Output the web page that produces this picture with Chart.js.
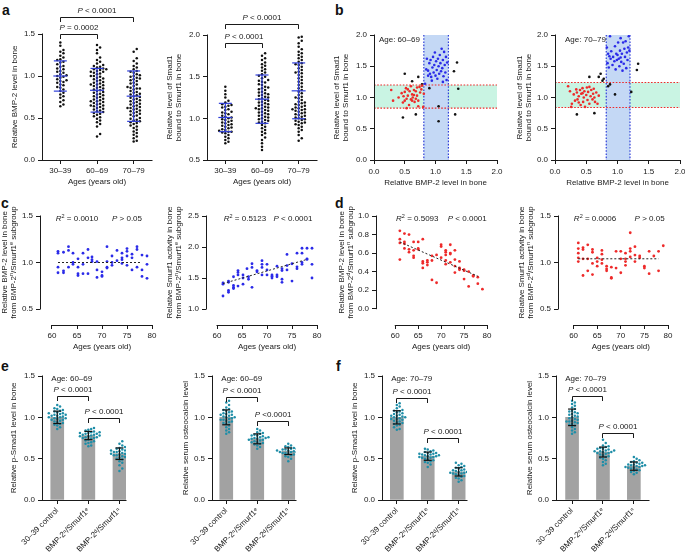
<!DOCTYPE html>
<html>
<head>
<meta charset="utf-8">
<script src="https://cdn.jsdelivr.net/npm/chart.js@4.4.0/dist/chart.umd.min.js"></script>
<style>
  html, body { margin: 0; padding: 0; background: #fff; }
  body { position: relative; width: 685px; height: 552px; overflow: hidden; font-family: 'Liberation Sans', Arial, sans-serif; }
  canvas { position: absolute; }
  .lbl { position: absolute; font-weight: bold; font-size: 14px; line-height: 1; color: #111; }
</style>
</head>
<body>
<div class="lbl" style="left:2px;top:3px">a</div>
<div class="lbl" style="left:335px;top:3px">b</div>
<div class="lbl" style="left:1px;top:196px">c</div>
<div class="lbl" style="left:335px;top:196px">d</div>
<div class="lbl" style="left:1px;top:359px">e</div>
<div class="lbl" style="left:336px;top:359px">f</div>
<script>
// ---- data ----
const ageGroups = ['30–39', '60–69', '70–79'];
const subgroupLabels = ['30–39 control', 'BMP-2ⁿ/Smurf1ᵉ', 'BMP-2ᵈ/Smurf1ⁿ'];

// a, left: relative BMP-2 level in bone
const bmp2Young = [1.40,1.36,1.31,1.29,1.27,1.24,1.22,1.20,1.19,1.17,1.16,1.14,1.12,1.11,1.09,1.08,1.06,1.05,1.04,1.02,1.01,1.00,0.99,0.98,0.96,0.95,0.94,0.93,0.92,0.90,0.89,0.87,0.86,0.84,0.82,0.80,0.78,0.76,0.74,0.71,0.69,0.66,0.64];
const bmp2Mid = [1.37,1.34,1.31,1.27,1.22,1.19,1.17,1.15,1.13,1.12,1.11,1.10,1.09,1.08,1.08,1.07,1.06,1.05,1.05,1.04,1.03,1.02,1.00,1.00,0.99,0.98,0.97,0.96,0.95,0.94,0.93,0.92,0.91,0.90,0.90,0.89,0.88,0.87,0.86,0.85,0.84,0.83,0.82,0.81,0.80,0.79,0.78,0.77,0.76,0.75,0.74,0.73,0.72,0.71,0.70,0.70,0.69,0.68,0.67,0.66,0.65,0.65,0.64,0.63,0.62,0.61,0.60,0.59,0.58,0.57,0.56,0.55,0.54,0.52,0.51,0.49,0.47,0.45,0.43,0.40,0.31,0.28];
const bmp2Old = [1.32,1.29,1.21,1.18,1.15,1.12,1.10,1.08,1.06,1.05,1.04,1.02,1.01,1.00,0.99,0.98,0.97,0.96,0.95,0.94,0.92,0.91,0.90,0.88,0.87,0.86,0.85,0.85,0.84,0.82,0.81,0.80,0.79,0.78,0.77,0.76,0.75,0.74,0.73,0.72,0.71,0.70,0.69,0.68,0.67,0.66,0.65,0.64,0.63,0.62,0.62,0.61,0.60,0.59,0.58,0.57,0.56,0.55,0.54,0.53,0.52,0.50,0.49,0.48,0.47,0.46,0.45,0.44,0.43,0.41,0.40,0.38,0.36,0.34,0.32,0.30,0.28,0.26,0.23,0.22];
const bmp2Mean = [1.00, 0.83, 0.76];
const bmp2SD = [0.18, 0.26, 0.30];

// a, right: relative level of Smad1 bound to Smurf1
const smadYoung = [1.38,1.33,1.29,1.25,1.21,1.19,1.17,1.16,1.15,1.14,1.13,1.11,1.10,1.08,1.07,1.06,1.05,1.03,1.02,1.01,1.00,0.99,0.98,0.97,0.96,0.95,0.94,0.93,0.92,0.91,0.90,0.89,0.88,0.87,0.86,0.85,0.84,0.84,0.83,0.82,0.80,0.78,0.76,0.74,0.72,0.70];
const smadMid = [1.78,1.75,1.72,1.70,1.67,1.65,1.63,1.61,1.59,1.57,1.55,1.53,1.51,1.50,1.48,1.46,1.45,1.44,1.43,1.41,1.40,1.38,1.37,1.36,1.35,1.34,1.32,1.31,1.30,1.29,1.28,1.27,1.26,1.25,1.24,1.23,1.22,1.21,1.20,1.19,1.18,1.17,1.16,1.15,1.14,1.13,1.12,1.12,1.11,1.10,1.09,1.08,1.07,1.06,1.05,1.04,1.03,1.02,1.01,1.00,0.99,0.98,0.97,0.96,0.95,0.94,0.92,0.90,0.88,0.86,0.84,0.82,0.80,0.77,0.74,0.70,0.66,0.62];
const smadOld = [1.98,1.97,1.93,1.90,1.86,1.83,1.80,1.78,1.76,1.74,1.72,1.70,1.68,1.66,1.65,1.64,1.62,1.60,1.58,1.56,1.55,1.54,1.52,1.50,1.48,1.46,1.44,1.42,1.40,1.38,1.36,1.34,1.32,1.30,1.28,1.26,1.25,1.24,1.22,1.20,1.19,1.18,1.17,1.16,1.15,1.14,1.13,1.12,1.11,1.11,1.10,1.09,1.08,1.07,1.06,1.05,1.04,1.03,1.02,1.01,1.00,0.99,0.98,0.97,0.96,0.95,0.94,0.93,0.92,0.90,0.88,0.86,0.84,0.80,0.76,0.73];
const smadMean = [1.01, 1.23, 1.33];
const smadSD = [0.17, 0.29, 0.335];

// b: BMP-2 level (x) vs Smad1-Smurf1 (y)
const b60Red = [[0.28,1.12],[0.31,0.95],[0.40,1.00],[0.45,1.07],[0.47,0.92],[0.48,1.02],[0.50,1.09],[0.50,0.95],[0.52,1.15],[0.53,0.83],[0.53,0.98],[0.55,1.13],[0.55,1.03],[0.57,0.88],[0.58,1.10],[0.60,0.97],[0.60,1.18],[0.62,1.05],[0.62,0.95],[0.63,1.00],[0.65,1.12],[0.65,1.04],[0.66,0.93],[0.68,1.10],[0.68,0.98],[0.70,1.16],[0.70,1.03],[0.72,0.86],[0.72,0.95],[0.74,1.17],[0.75,1.08],[0.77,1.13],[0.78,1.19],[0.80,0.85],[0.81,1.06]];
const b60Blue = [[0.83,1.22],[0.85,1.45],[0.86,1.62],[0.88,1.35],[0.88,1.43],[0.90,1.55],[0.91,1.38],[0.92,1.60],[0.93,1.33],[0.94,1.27],[0.95,1.48],[0.96,1.65],[0.97,1.40],[0.98,1.52],[0.99,1.72],[1.00,1.35],[1.01,1.58],[1.02,1.44],[1.03,1.30],[1.04,1.62],[1.05,1.50],[1.06,1.38],[1.07,1.68],[1.08,1.55],[1.09,1.42],[1.10,1.78],[1.11,1.47],[1.12,1.60],[1.12,1.25],[1.13,1.34],[1.14,1.73],[1.15,1.52],[1.16,1.40],[1.17,1.65],[1.18,1.28],[1.19,1.56]];
const b60Black = [[0.50,1.38],[0.62,1.26],[0.72,1.33],[0.78,1.21],[0.47,0.68],[0.68,0.73],[0.90,1.15],[1.05,0.86],[1.05,0.62],[1.30,1.42],[1.35,1.56],[1.37,1.14],[1.32,0.73]];
const b70Red = [[0.21,1.18],[0.24,1.10],[0.26,0.85],[0.27,0.90],[0.30,1.05],[0.32,0.95],[0.34,1.13],[0.35,1.08],[0.36,0.97],[0.38,1.02],[0.38,0.92],[0.40,1.12],[0.41,0.88],[0.42,1.06],[0.44,1.15],[0.44,1.07],[0.45,0.93],[0.46,1.00],[0.47,1.10],[0.48,0.85],[0.50,1.04],[0.51,1.16],[0.52,0.96],[0.53,1.09],[0.55,1.17],[0.55,0.90],[0.57,1.02],[0.58,1.12],[0.60,0.97],[0.61,1.06],[0.62,1.14],[0.63,1.00],[0.64,0.93],[0.66,1.08],[0.68,0.90],[0.70,1.03]];
const b70Blue = [[0.83,1.80],[0.84,1.55],[0.85,1.70],[0.86,1.48],[0.87,1.66],[0.88,1.98],[0.89,1.62],[0.90,1.74],[0.92,1.52],[0.93,1.65],[0.95,1.58],[0.96,1.82],[0.97,1.45],[0.98,1.70],[0.99,1.60],[1.00,1.68],[1.01,1.88],[1.02,1.62],[1.03,1.50],[1.04,1.75],[1.05,1.64],[1.05,1.95],[1.06,1.57],[1.07,1.70],[1.08,1.43],[1.09,1.88],[1.10,1.54],[1.11,1.78],[1.12,1.65],[1.13,1.90],[1.14,1.47],[1.15,1.72],[1.16,1.60],[1.17,1.80],[1.18,1.98],[1.19,1.75]];
const b70Black = [[0.35,0.73],[0.63,0.75],[0.55,1.33],[0.70,1.33],[0.73,1.38],[0.76,1.27],[0.78,1.30],[0.85,1.18],[0.88,1.21],[0.96,1.05],[1.22,1.09],[1.31,1.44],[1.33,1.54]];

// c: BMP-2^n/Smurf1^e subgroup vs age
const cBmpAge = [61.2,61.2,61.2,61.2,62.3,62.3,62.3,63.3,63.3,63.3,64.2,64.2,64.2,65.2,65.2,65.2,65.2,66.2,66.2,66.2,67.2,67.2,67.2,68,68,68,69,69,69,70,70,70,71,71,71,71,72,72,72,73,73,74,74,74,74,75,75,75,75,76,76,76,77,77,77,78,78,78,79,79,79];
const cBmpVal = [1.12,1.10,0.95,0.89,1.11,0.91,0.89,1.17,1.13,0.95,1.10,1.00,0.98,1.04,0.95,0.88,0.86,1.10,0.98,0.88,1.14,1.05,0.88,1.06,1.03,1.01,1.01,0.92,0.84,0.90,0.86,0.85,1.17,1.01,0.95,0.94,1.07,0.97,1.00,1.13,1.02,1.10,1.05,1.03,0.99,1.15,1.12,1.07,0.97,1.09,1.05,0.92,1.17,1.14,0.95,1.08,0.92,0.85,1.07,0.98,0.83];
const cSmurfAge = [61.2,61.2,61.2,62.3,62.3,62.3,62.3,63.3,63.3,63.3,63.3,64.2,64.2,64.2,64.2,65.2,65.2,65.2,66,66.3,66.3,67,67,67,68,68,69,69,69,69,70,70,70,71,71,71,72,72,72,73,73,73,73,74,74,74,75,75,76,76,76,77,77,77,77,78,78,78,79,79,79];
const cSmurfVal = [1.42,1.40,1.21,1.45,1.43,1.30,1.27,1.52,1.38,1.35,1.33,1.62,1.59,1.55,1.37,1.55,1.50,1.40,1.65,1.52,1.48,1.73,1.67,1.35,1.62,1.60,1.78,1.72,1.67,1.55,1.72,1.63,1.55,1.55,1.53,1.50,1.69,1.55,1.52,1.65,1.62,1.48,1.43,1.88,1.70,1.63,1.73,1.45,1.90,1.68,1.65,1.98,1.90,1.75,1.72,1.98,1.81,1.80,1.98,1.72,1.50];
const cFitAge = [61.2, 78];
const cBmpFit = [1.00, 1.00];
const cSmurfFit = [1.41, 1.80];

// d: BMP-2^d/Smurf1^n subgroup vs age
const dBmpAge = [61,61,61,61,62,62,62,62,63,63,63,64,64,64,64,65,65,65,66,66,66,66,67,67,67,68,68,68,69,69,70,70,70,71,71,71,71,71,72,72,72,72,73,73,73,73,74,74,74,74,75,75,75,76,76,77,77,78,78,79];
const dBmpVal = [0.84,0.75,0.71,0.53,0.81,0.72,0.70,0.65,0.80,0.64,0.61,0.72,0.63,0.57,0.55,0.72,0.65,0.64,0.75,0.51,0.49,0.44,0.52,0.50,0.47,0.57,0.52,0.31,0.58,0.28,0.69,0.67,0.55,0.63,0.61,0.58,0.52,0.48,0.69,0.60,0.59,0.50,0.63,0.53,0.46,0.39,0.51,0.44,0.43,0.42,0.42,0.41,0.32,0.40,0.24,0.36,0.35,0.34,0.27,0.21];
const dSmurfAge = [61,61,61,61,61,62,62,62,62,63,63,63,64,64,64,64,65,65,65,66,66,66,66,67,67,67,68,68,68,69,69,70,70,70,71,71,71,71,72,72,72,72,73,73,73,74,74,75,75,76,76,77,78,78,79];
const dSmurfVal = [1.21,1.15,1.10,1.05,1.01,1.16,1.14,1.04,0.86,1.19,1.04,0.91,1.14,1.11,0.99,0.87,1.05,1.01,0.96,1.13,1.09,1.03,0.99,0.96,0.93,0.91,0.95,0.84,0.83,1.12,0.94,1.12,1.04,0.89,1.10,1.04,1.01,0.97,1.32,1.15,1.12,1.06,1.17,1.08,1.01,1.07,1.05,0.96,0.94,1.12,0.88,1.07,1.12,0.91,1.18];
const dFitAge = [61, 78];
const dBmpFit = [0.72, 0.35];
const dSmurfFit = [1.04, 1.04];

// e (age 60-69) and f (age 70-79): control, BMP-2^n/Smurf1^e, BMP-2^d/Smurf1^n
const eSmadCtrl = [1.15,1.13,1.11,1.10,1.09,1.08,1.07,1.06,1.05,1.05,1.04,1.03,1.03,1.02,1.02,1.01,1.00,1.00,0.99,0.99,0.98,0.97,0.97,0.96,0.95,0.94,0.93,0.92,0.91,0.90,0.88,0.86];
const eSmadNE = [0.87,0.86,0.85,0.84,0.83,0.82,0.82,0.81,0.81,0.80,0.80,0.79,0.79,0.78,0.78,0.77,0.77,0.76,0.76,0.75,0.75,0.74,0.73,0.72,0.71,0.70,0.69,0.68,0.66,0.65];
const eSmadDN = [0.71,0.68,0.66,0.64,0.63,0.62,0.61,0.60,0.60,0.59,0.58,0.58,0.57,0.57,0.56,0.56,0.55,0.55,0.54,0.54,0.53,0.52,0.51,0.50,0.49,0.47,0.45,0.42,0.38,0.35];
const eSmadMean = [1.00, 0.78, 0.56];
const eSmadSD = [0.075, 0.05, 0.07];
const eOcnCtrl = [1.20,1.18,1.15,1.12,1.10,1.09,1.08,1.07,1.06,1.05,1.04,1.03,1.03,1.02,1.01,1.00,1.00,0.99,0.98,0.97,0.97,0.96,0.95,0.94,0.93,0.92,0.90,0.88,0.86,0.84,0.82,0.80];
const eOcnNE = [0.86,0.84,0.82,0.81,0.80,0.79,0.78,0.78,0.77,0.76,0.76,0.75,0.75,0.74,0.74,0.73,0.73,0.72,0.71,0.70,0.70,0.69,0.68,0.67,0.66,0.64,0.62];
const eOcnDN = [0.68,0.66,0.65,0.64,0.63,0.62,0.62,0.61,0.61,0.60,0.60,0.60,0.59,0.59,0.58,0.58,0.58,0.57,0.57,0.56,0.55,0.54,0.53,0.52,0.50,0.47];
const eOcnMean = [1.00, 0.74, 0.59];
const eOcnSD = [0.09, 0.06, 0.04];
const fSmadCtrl = [1.17,1.15,1.13,1.11,1.09,1.08,1.07,1.06,1.05,1.04,1.03,1.02,1.02,1.01,1.00,1.00,0.99,0.98,0.98,0.97,0.96,0.95,0.94,0.93,0.92,0.91,0.90,0.88,0.86,0.85];
const fSmadNE = [0.62,0.61,0.60,0.59,0.58,0.57,0.57,0.56,0.56,0.55,0.55,0.54,0.54,0.53,0.53,0.52,0.52,0.51,0.51,0.50,0.49,0.48,0.47,0.46,0.45,0.43,0.40];
const fSmadDN = [0.45,0.44,0.42,0.41,0.40,0.39,0.38,0.37,0.36,0.36,0.35,0.35,0.34,0.34,0.33,0.33,0.32,0.32,0.31,0.30,0.29,0.28,0.27,0.26,0.24,0.22];
const fSmadMean = [1.00, 0.53, 0.34];
const fSmadSD = [0.08, 0.05, 0.05];
const fOcnCtrl = [1.20,1.18,1.16,1.14,1.12,1.10,1.08,1.07,1.06,1.05,1.04,1.03,1.02,1.01,1.00,0.99,0.98,0.97,0.96,0.95,0.95,0.94,0.93,0.92,0.91,0.90,0.88,0.86,0.84,0.82,0.80];
const fOcnNE = [0.73,0.69,0.66,0.65,0.64,0.63,0.62,0.62,0.61,0.60,0.60,0.59,0.59,0.58,0.58,0.57,0.57,0.56,0.55,0.54,0.53,0.52,0.51,0.50,0.48,0.46,0.44,0.42];
const fOcnDN = [0.52,0.50,0.48,0.47,0.46,0.45,0.45,0.44,0.43,0.43,0.42,0.42,0.41,0.41,0.40,0.40,0.39,0.39,0.38,0.37,0.36,0.35,0.34,0.33,0.31];
const fOcnMean = [1.00, 0.58, 0.41];
const fOcnSD = [0.10, 0.06, 0.05];

// ---- styling ----
const FAM = "'Liberation Sans', Arial, Helvetica, sans-serif";
const INK = '#1a1a1a';
const BLUE = '#2f3fd9';
const DOT_BLUE = '#2b2be8';
const DOT_RED = '#ee2a2a';
const TEAL = '#1f8ea8';
const GRAY = '#a2a2a2';
const BAND_BLUE = '#c4d8f5';
const BAND_GREEN = '#c9f4e3';

Chart.defaults.font.family = FAM;
Chart.defaults.font.size = 8;
Chart.defaults.color = INK;

const al = p => Math.round(p - 0.5) + 0.5;

// text with _italic_ and ^superscript^ parts
function rich(ctx, str, x, y, align) {
  const segs = str.split(/(_[^_]+_|\^[^^]+\^)/).filter(s => s).map(s =>
    s[0] === '_' ? {t: s.slice(1, -1), i: true} : s[0] === '^' ? {t: s.slice(1, -1), sup: true} : {t: s});
  const font = s => `${s.i ? 'italic ' : ''}${s.sup ? 5.5 : 8}px ${FAM}`;
  let w = 0;
  segs.forEach(s => { ctx.font = font(s); w += ctx.measureText(s.t).width; });
  let cx = align === 'center' ? x - w / 2 : align === 'right' ? x - w : x;
  ctx.fillStyle = INK;
  ctx.textAlign = 'left';
  ctx.textBaseline = 'middle';
  segs.forEach(s => {
    ctx.font = font(s);
    ctx.fillText(s.t, cx, s.sup ? y - 2.5 : y);
    cx += ctx.measureText(s.t).width;
  });
}

// column-scatter placement (dot positions spread sideways so they don't overlap)
function swarm(values, center, pxX, pxY, d) {
  const placed = [];
  return [...values].sort((p, q) => p - q).map(v => {
    for (let k = 0; ; k++) {
      const off = (k % 2 ? 1 : -1) * Math.ceil(k / 2) * d;
      if (placed.every(p => Math.hypot(p.ox - off, (p.v - v) * pxY) >= d)) {
        placed.push({ox: off, v});
        return {x: center + off / pxX, y: v};
      }
    }
  });
}

const pairs = list => list.map(([x, y]) => ({x, y}));
const zip = (xs, ys) => xs.map((x, i) => ({x, y: ys[i]}));

function dots(points, color, r) {
  return {data: points, pointRadius: r || 1.25, pointBackgroundColor: color, pointBorderWidth: 0, showLine: false, order: 1};
}
function fitLine(xs, ys) {
  return {type: 'line', data: zip(xs, ys), borderColor: '#222', borderWidth: 1, borderDash: [2, 2], pointRadius: 0, fill: false, order: 0};
}
function bars(means) {
  return {type: 'bar', data: means.map((m, i) => ({x: i + 1, y: m})), backgroundColor: GRAY, barThickness: 13, order: 3};
}

function decor(spec) {
  const line = (ctx, x1, y1, x2, y2) => { ctx.beginPath(); ctx.moveTo(x1, y1); ctx.lineTo(x2, y2); ctx.stroke(); };
  return {
    id: 'decor',
    beforeDatasetsDraw(chart) {
      const {ctx, chartArea: a, scales: {x, y}} = chart;
      ctx.save();
      (spec.bands || []).forEach(b => {
        ctx.fillStyle = b.fill;
        if (b.axis === 'x') {
          const p1 = x.getPixelForValue(b.from), p2 = x.getPixelForValue(b.to);
          ctx.fillRect(p1, a.top, p2 - p1, a.bottom - a.top);
        } else {
          const p1 = y.getPixelForValue(b.to), p2 = y.getPixelForValue(b.from);
          ctx.fillRect(a.left, p1, a.right - a.left, p2 - p1);
        }
      });
      ctx.lineWidth = 1.2;
      ctx.setLineDash([1.6, 1.6]);
      (spec.bands || []).forEach(b => {
        ctx.strokeStyle = b.line;
        [b.from, b.to].forEach(v => {
          if (b.axis === 'x') { const p = x.getPixelForValue(v); line(ctx, p, a.top, p, a.bottom); }
          else { const p = y.getPixelForValue(v); line(ctx, a.left, p, a.right, p); }
        });
      });
      ctx.restore();
    },
    afterDatasetsDraw(chart) {
      const {ctx, chartArea: a, scales: {x, y}} = chart;
      ctx.save();
      ctx.strokeStyle = INK;
      ctx.lineWidth = 1;
      // axis lines
      const ax = spec.axes;
      const yl = al(a.left), xl = al(a.bottom);
      line(ctx, yl, y.getPixelForValue(ax.y[1]) - 0.5, yl, y.getPixelForValue(ax.y[0]) + 0.5);
      line(ctx, x.getPixelForValue(ax.x[0]) - 0.5, xl, x.getPixelForValue(ax.x[1]) + 0.5, xl);
      // error bars
      const e = spec.errs;
      if (e) {
        ctx.strokeStyle = e.color;
        ctx.lineWidth = 1.2;
        e.means.forEach((m, i) => {
          const px = x.getPixelForValue(i + 1);
          const pm = y.getPixelForValue(m), p1 = y.getPixelForValue(m - e.sds[i]), p2 = y.getPixelForValue(m + e.sds[i]);
          line(ctx, px, p1, px, p2);
          if (e.kind === 'sd') {
            line(ctx, px - 7, pm, px + 7, pm);
            line(ctx, px - 6.5, p1, px + 6.5, p1);
            line(ctx, px - 6.5, p2, px + 6.5, p2);
          } else {
            line(ctx, px - 4, p1, px + 4, p1);
            line(ctx, px - 4, p2, px + 4, p2);
          }
        });
      }
      // brackets
      ctx.strokeStyle = INK;
      ctx.lineWidth = 1;
      (spec.brackets || []).forEach(b => {
        const x1 = al(x.getPixelForValue(b.x1)), x2 = al(x.getPixelForValue(b.x2)), py = al(y.getPixelForValue(b.y));
        ctx.beginPath();
        ctx.moveTo(x1, py + 4.5); ctx.lineTo(x1, py); ctx.lineTo(x2, py); ctx.lineTo(x2, py + 4.5);
        ctx.stroke();
        rich(ctx, b.text, (x1 + x2) / 2, py - 6.5, 'center');
      });
      (spec.texts || []).forEach(t => rich(ctx, t.text, x.getPixelForValue(t.x), y.getPixelForValue(t.y), t.align || 'center'));
      // axis titles
      const t = spec.ytitle;
      const cy = (y.getPixelForValue(ax.y[0]) + y.getPixelForValue(ax.y[1])) / 2;
      t.lines.forEach((ln, k) => {
        ctx.save();
        ctx.translate(a.left - t.dx + k * 8.8, cy);
        ctx.rotate(-Math.PI / 2);
        rich(ctx, ln, 0, 0, 'center');
        ctx.restore();
      });
      if (spec.xtitle) {
        const cx = (x.getPixelForValue(ax.x[0]) + x.getPixelForValue(ax.x[1])) / 2;
        rich(ctx, spec.xtitle.text, cx, a.bottom + spec.xtitle.dy, 'center');
      }
      ctx.restore();
    }
  };
}

function axis(ax, fit) {
  return {
    type: 'linear', min: ax.min, max: ax.max,
    offset: false,
    border: {display: false},
    grid: {drawOnChartArea: false, offset: false, tickLength: 4, color: INK, lineWidth: 1},
    ticks: {
      color: INK, font: {size: 8}, padding: ax.pad || 2, autoSkip: false,
      maxRotation: ax.rot || 0, minRotation: ax.rot || 0,
      callback: (v, i) => ax.labels ? ax.labels[i] : Number(v).toFixed(ax.dec === undefined ? 1 : ax.dec)
    },
    afterBuildTicks: s => { s.ticks = ax.ticks.map(v => ({value: v})); },
    afterFit: s => {
      fit(s);
      // keep label overhang from moving the plot area
      s.paddingLeft = s.paddingRight = s.paddingTop = s.paddingBottom = 0;
    }
  };
}

// area: plot rectangle on the page; m: room around it for ticks, titles, notes
function makePanel(area, m, spec) {
  const W = area.r - area.l + m.l + m.r;
  const H = area.b - area.t + m.t + m.b;
  const cv = document.createElement('canvas');
  cv.width = W; cv.height = H;
  cv.style.left = (area.l - m.l) + 'px';
  cv.style.top = (area.t - m.t) + 'px';
  cv.style.width = W + 'px';
  cv.style.height = H + 'px';
  document.body.appendChild(cv);
  return new Chart(cv, {
    type: 'scatter',
    data: {datasets: spec.datasets},
    options: {
      responsive: false, animation: false, devicePixelRatio: 1,
      layout: {padding: {left: 0, top: m.t, right: m.r, bottom: 0}},
      plugins: {legend: {display: false}, tooltip: {enabled: false}},
      scales: {
        x: axis(spec.x, s => { s.height = m.b; }),
        y: axis(spec.y, s => { s.width = m.l; })
      }
    },
    plugins: [decor(spec)]
  });
}

const smadTitle = ['Relative level of Smad1', 'bound to Smurf1 in bone'];
const agesTitle = {text: 'Ages (years old)', dy: 22};
const catX = {min: 0.5, max: 3.5, ticks: [1, 2, 3], labels: ageGroups};

// ---- a ----
makePanel({l: 42, t: 34, r: 152, b: 160}, {l: 42, t: 34, r: 10, b: 30}, {
  x: catX, y: {min: 0, max: 1.5, ticks: [0, 0.5, 1, 1.5], pad: 3},
  axes: {x: [0.5, 3.5], y: [0, 1.5]},
  datasets: [bmp2Young, bmp2Mid, bmp2Old].map((g, i) => dots(swarm(g, i + 1, 36.7, 84, 3.1), '#111', 1.25)),
  errs: {kind: 'sd', means: bmp2Mean, sds: bmp2SD, color: BLUE},
  brackets: [{x1: 1, x2: 3, y: 1.70, text: '_P_ < 0.0001'}, {x1: 1, x2: 2, y: 1.50, text: '_P_ = 0.0002'}],
  ytitle: {lines: ['Relative BMP-2 level in bone'], dx: 27},
  xtitle: agesTitle
});
makePanel({l: 207, t: 35, r: 317, b: 160}, {l: 50, t: 35, r: 12, b: 30}, {
  x: catX, y: {min: 0.5, max: 2.0, ticks: [0.5, 1, 1.5, 2], pad: 3},
  axes: {x: [0.5, 3.5], y: [0.5, 2.0]},
  datasets: [smadYoung, smadMid, smadOld].map((g, i) => dots(swarm(g, i + 1, 36.7, 83.3, 3.1), '#111', 1.25)),
  errs: {kind: 'sd', means: smadMean, sds: smadSD, color: BLUE},
  brackets: [{x1: 1, x2: 3, y: 2.13, text: '_P_ < 0.0001'}, {x1: 1, x2: 2, y: 1.90, text: '_P_ < 0.0001'}],
  ytitle: {lines: smadTitle, dx: 37},
  xtitle: agesTitle
});

// ---- b ----
const unitAxis = {min: 0, max: 2, ticks: [0, 0.5, 1, 1.5, 2], pad: 3};
makePanel({l: 374, t: 35, r: 497, b: 160}, {l: 42, t: 35, r: 8, b: 30}, {
  x: unitAxis, y: unitAxis,
  axes: {x: [0, 2], y: [0, 2]},
  bands: [{axis: 'y', from: 0.83, to: 1.20, fill: BAND_GREEN, line: DOT_RED}, {axis: 'x', from: 0.81, to: 1.21, fill: BAND_BLUE, line: BLUE}],
  datasets: [dots(pairs(b60Red), DOT_RED, 1.3), dots(pairs(b60Blue), DOT_BLUE, 1.3), dots(pairs(b60Black), '#111', 1.3)],
  texts: [{x: 0.08, y: 1.93, text: 'Age: 60–69', align: 'left'}],
  ytitle: {lines: smadTitle, dx: 37},
  xtitle: {text: 'Relative BMP-2 level in bone', dy: 23}
});
makePanel({l: 555, t: 35, r: 680, b: 160}, {l: 42, t: 35, r: 5, b: 30}, {
  x: unitAxis, y: unitAxis,
  axes: {x: [0, 2], y: [0, 2]},
  bands: [{axis: 'y', from: 0.84, to: 1.24, fill: BAND_GREEN, line: DOT_RED}, {axis: 'x', from: 0.82, to: 1.20, fill: BAND_BLUE, line: BLUE}],
  datasets: [dots(pairs(b70Red), DOT_RED, 1.3), dots(pairs(b70Blue), DOT_BLUE, 1.3), dots(pairs(b70Black), '#111', 1.3)],
  texts: [{x: 0.16, y: 1.92, text: 'Age: 70–79', align: 'left'}],
  ytitle: {lines: smadTitle, dx: 35},
  xtitle: {text: 'Relative BMP-2 level in bone', dy: 23}
});

// ---- c ----
const ageTicks = [60, 65, 70, 75, 80];
makePanel({l: 40, t: 216, r: 152, b: 325}, {l: 40, t: 20, r: 10, b: 28}, {
  x: {min: 57.6, max: 80, ticks: ageTicks, dec: 0}, y: {min: 0.328, max: 1.5, ticks: [0.5, 1, 1.5], pad: 3},
  axes: {x: [60, 80], y: [0.5, 1.5]},
  datasets: [dots(zip(cBmpAge, cBmpVal), DOT_BLUE, 1.4), fitLine(cFitAge, cBmpFit)],
  texts: [{x: 65.0, y: 1.465, text: '_R_^2^ = 0.0010'}, {x: 75.0, y: 1.465, text: '_P_ > 0.05'}],
  ytitle: {lines: ['Relative BMP-2 level in bone', 'from BMP-2^n^/Smurf1^e^ subgroup'], dx: 35},
  xtitle: agesTitle
});
makePanel({l: 206, t: 216, r: 317, b: 325}, {l: 42, t: 20, r: 12, b: 28}, {
  x: {min: 57.8, max: 80, ticks: ageTicks, dec: 0}, y: {min: 0.742, max: 2.5, ticks: [1, 1.5, 2, 2.5], pad: 3},
  axes: {x: [60, 80], y: [1.0, 2.5]},
  datasets: [dots(zip(cSmurfAge, cSmurfVal), DOT_BLUE, 1.4), fitLine(cFitAge, cSmurfFit)],
  texts: [{x: 65.6, y: 2.45, text: '_R_^2^ = 0.5123'}, {x: 75.2, y: 2.45, text: '_P_ < 0.0001'}],
  ytitle: {lines: ['Relative Smurf1 activity in bone', 'from BMP-2^n^/Smurf1^e^ subgroup'], dx: 36},
  xtitle: agesTitle
});

// ---- d ----
makePanel({l: 376, t: 216, r: 487, b: 325}, {l: 42, t: 20, r: 12, b: 28}, {
  x: {min: 55.8, max: 80, ticks: ageTicks, dec: 0}, y: {min: -0.176, max: 1.0, ticks: [0, 0.2, 0.4, 0.6, 0.8, 1.0], pad: 3},
  axes: {x: [60, 80], y: [0, 1.0]},
  datasets: [dots(zip(dBmpAge, dBmpVal), DOT_RED, 1.4), fitLine(dFitAge, dBmpFit)],
  texts: [{x: 64.8, y: 0.968, text: '_R_^2^ = 0.5093'}, {x: 75.7, y: 0.968, text: '_P_ < 0.0001'}],
  ytitle: {lines: ['Relative BMP-2 level in bone', 'from BMP-2^d^/Smurf1^n^ subgroup'], dx: 34},
  xtitle: agesTitle
});
makePanel({l: 558, t: 216, r: 668, b: 325}, {l: 42, t: 20, r: 12, b: 28}, {
  x: {min: 56.7, max: 80, ticks: ageTicks, dec: 0}, y: {min: 0.328, max: 1.5, ticks: [0.5, 1, 1.5], pad: 3},
  axes: {x: [60, 80], y: [0.5, 1.5]},
  datasets: [dots(zip(dSmurfAge, dSmurfVal), DOT_RED, 1.4), fitLine(dFitAge, dSmurfFit)],
  texts: [{x: 64.55, y: 1.465, text: '_R_^2^ = 0.0006'}, {x: 76.1, y: 1.465, text: '_P_ > 0.05'}],
  ytitle: {lines: ['Relative Smurf1 activity in bone', 'from BMP-2^d^/Smurf1^n^ subgroup'], dx: 36},
  xtitle: agesTitle
});

// ---- e / f ----
function barPanel(area, xr, groups, means, sds, brackets, age, title, dx) {
  makePanel(area, {l: 42, t: 14, r: 12, b: 52}, {
    x: {min: xr[0], max: xr[1], ticks: [1, 2, 3], labels: subgroupLabels, rot: 45},
    y: {min: 0, max: 1.5, ticks: [0, 0.5, 1, 1.5], pad: 3},
    axes: {x: xr, y: [0, 1.5]},
    datasets: [bars(means), ...groups.map((g, i) => dots(swarm(g, i + 1, 31, 82.9, 2.8), TEAL, 1.25))],
    errs: {kind: 'bar', means, sds, color: '#111'},
    brackets,
    texts: [{x: xr[0] + 0.3, y: 1.47, text: age, align: 'left'}],
    ytitle: {lines: [title], dx}
  });
}
barPanel({l: 42, t: 376, r: 126, b: 500}, [0.51, 3.21], [eSmadCtrl, eSmadNE, eSmadDN], eSmadMean, eSmadSD,
  [{x1: 1, x2: 2, y: 1.255, text: '_P_ < 0.0001'}, {x1: 2, x2: 3, y: 0.99, text: '_P_ < 0.0001'}],
  'Age: 60–69', 'Relative p-Smad1 level in bone', 28);
barPanel({l: 212, t: 376, r: 296, b: 500}, [0.54, 3.25], [eOcnCtrl, eOcnNE, eOcnDN], eOcnMean, eOcnSD,
  [{x1: 1, x2: 2, y: 1.24, text: '_P_ < 0.0001'}, {x1: 2, x2: 3, y: 0.95, text: '_P_ <0.0001'}],
  'Age: 60–69', 'Relative serum osteocalcin level', 26);
barPanel({l: 382, t: 376, r: 467, b: 500}, [0.52, 3.27], [fSmadCtrl, fSmadNE, fSmadDN], fSmadMean, fSmadSD,
  [{x1: 1, x2: 2, y: 1.23, text: '_P_ < 0.0001'}, {x1: 2, x2: 3, y: 0.74, text: '_P_ < 0.0001'}],
  'Age: 70–79', 'Relative p-Smad1 level in bone', 27);
barPanel({l: 556, t: 376, r: 649, b: 500}, [0.48, 3.49], [fOcnCtrl, fOcnNE, fOcnDN], fOcnMean, fOcnSD,
  [{x1: 1, x2: 2, y: 1.255, text: '_P_ < 0.0001'}, {x1: 2, x2: 3, y: 0.80, text: '_P_ < 0.0001'}],
  'Age: 70–79', 'Relative serum osteocalcin level', 26);
</script>
</body>
</html>
